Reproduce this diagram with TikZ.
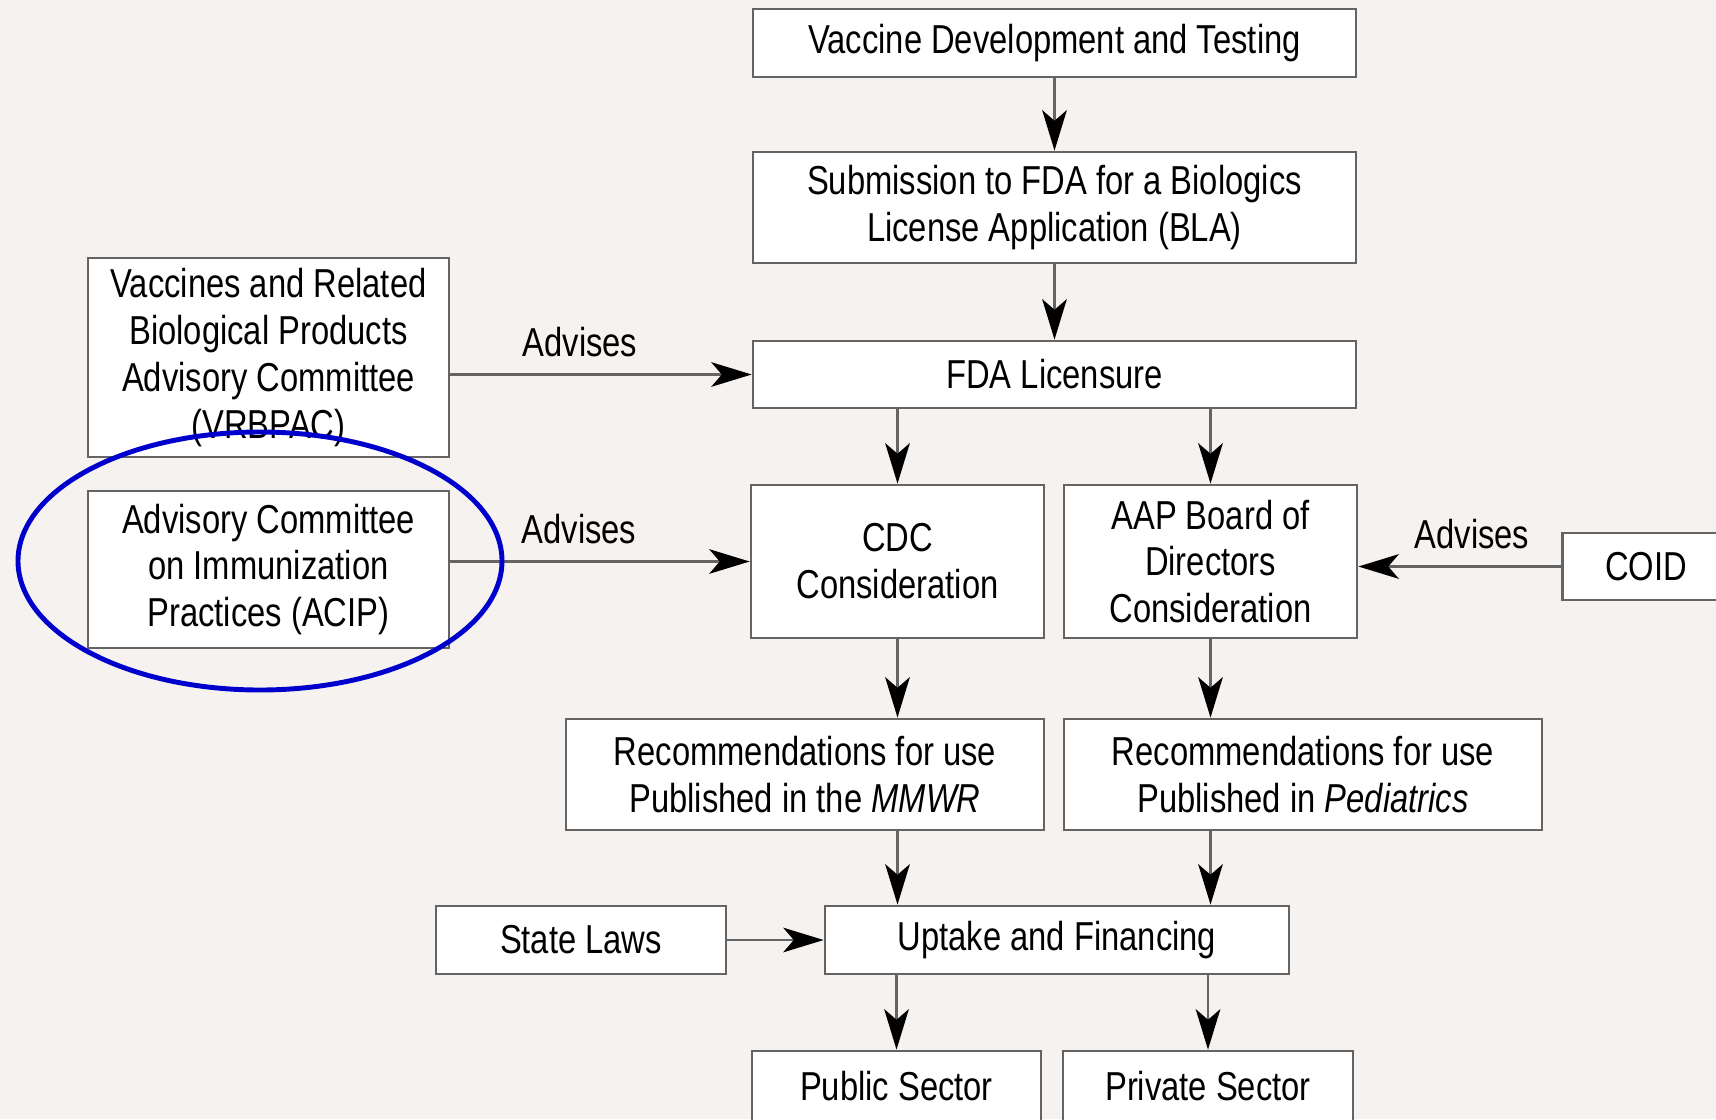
\documentclass[tikz,border=0pt]{standalone}
\usepackage{fontspec}
\setmainfont[FakeStretch=0.81]{Liberation Sans}
\usetikzlibrary{arrows.meta}
\definecolor{paper}{RGB}{245,242,239}
\definecolor{boxline}{RGB}{100,100,100}
\definecolor{ringblue}{RGB}{0,0,205}

\begin{document}
\begin{tikzpicture}[x=0.02cm, y=-0.02cm,
    stage/.style={draw=boxline, line width=1.6pt, fill=white, inner sep=0pt,
      align=center, font=\fontsize{23}{26.7}\selectfont},
    flow/.style={draw=boxline, line width=1.6pt,
      -{Stealth[length=23pt, width=14pt, inset=6pt, color=black]}},
    advice/.style={font=\fontsize{23}{26.7}\selectfont, above=6pt}]
  %% Canvas
  \fill[paper] (0,0) rectangle (1716,1119);
  \useasboundingbox (0,0) rectangle (1716,1119);
  \clip (0,0) rectangle (1716,1119);

  %% Licensing column
  \node[stage, minimum width=12.06cm, minimum height=1.36cm] (vdt) at (1054.5,43) {Vaccine Development and Testing};
  \node[stage, minimum width=12.06cm, minimum height=2.22cm] (bla) at (1054.5,207.5) {Submission to FDA for a Biologics\\License Application (BLA)};
  \node[stage, minimum width=12.06cm, minimum height=1.34cm] (fda) at (1054.5,374.5) {FDA Licensure};

  %% Advisory committees
  \node[stage, minimum width=7.22cm, minimum height=3.98cm] (vrbpac) at (268.5,357.5) {Vaccines and Related\\Biological Products\\Advisory Committee\\(VRBPAC)};
  \node[stage, minimum width=7.22cm, minimum height=3.14cm] (acip) at (268.5,569.5) {Advisory Committee\\on Immunization\\Practices (ACIP)};
  \node[stage, minimum width=3.34cm, minimum height=1.34cm] (coid) at (1646,566.5) {COID};

  %% Consideration and recommendations
  \node[stage, minimum width=5.86cm, minimum height=3.06cm] (cdc) at (897.5,561.5) {CDC\\Consideration};
  \node[stage, minimum width=5.86cm, minimum height=3.06cm] (aap) at (1210.5,561.5) {AAP Board of\\Directors\\Consideration};
  \node[stage, minimum width=9.56cm, minimum height=2.22cm] (mmwr) at (805,774.5) {Recommendations for use\\Published in the \textit{MMWR}};
  \node[stage, minimum width=9.56cm, minimum height=2.22cm] (peds) at (1303,774.5) {Recommendations for use\\Published in \textit{Pediatrics}};

  %% Uptake
  \node[stage, minimum width=5.8cm, minimum height=1.36cm] (state) at (581,940) {State Laws};
  \node[stage, minimum width=9.28cm, minimum height=1.36cm] (uptake) at (1057,940) {Uptake and Financing};
  \node[stage, minimum width=5.78cm, minimum height=1.4cm] (public) at (896.5,1086) {Public Sector};
  \node[stage, minimum width=5.8cm, minimum height=1.4cm] (private) at (1208,1086) {Private Sector};

  %% Connectors
  \draw[flow] (vdt) -- (bla);
  \draw[flow] (bla) -- (fda);
  \draw[flow] (fda.south -| cdc.north) -- (cdc.north);
  \draw[flow] (fda.south -| aap.north) -- (aap.north);
  \draw[flow] (vrbpac.east |- fda.west) -- node[advice, pos=0.43] {Advises} (fda.west);
  \draw[flow] (acip.east |- cdc.west) -- node[advice, pos=0.43] {Advises} (cdc.west);
  \draw[flow] (coid.west) -- node[advice, pos=0.44] {Advises} (coid.west -| aap.east);
  \draw[flow] (cdc.south) -- (cdc.south |- mmwr.north);
  \draw[flow] (aap.south) -- (aap.south |- peds.north);
  \draw[flow] (mmwr.south -| cdc.south) -- (uptake.north -| cdc.south);
  \draw[flow] (peds.south -| aap.south) -- (uptake.north -| aap.south);
  \draw[flow] (state) -- (uptake);
  \draw[flow] (uptake.south -| public.north) -- (public.north);
  \draw[flow] (uptake.south -| private.north) -- (private.north);

  %% Highlight ring
  \draw[ringblue, line width=2.8pt] (260,561) ellipse [x radius=242, y radius=129];
\end{tikzpicture}
\end{document}
